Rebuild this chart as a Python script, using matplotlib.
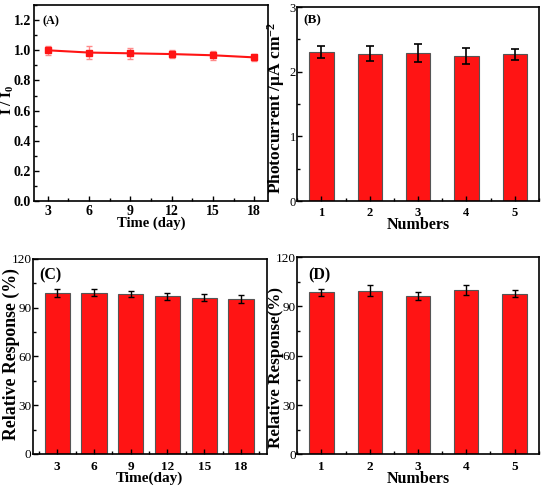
import matplotlib
matplotlib.use("Agg")
import matplotlib.pyplot as plt
from matplotlib.ticker import MultipleLocator

plt.rcParams['font.family'] = ['Liberation Serif', 'DejaVu Serif']
plt.rcParams['mathtext.fontset'] = 'custom'
plt.rcParams['mathtext.rm'] = 'Liberation Serif:bold'
plt.rcParams['mathtext.it'] = 'Liberation Serif:bold'
plt.rcParams['mathtext.bf'] = 'Liberation Serif:bold'

# Panel A data
days_a = [3, 6, 9, 12, 15, 18]
ratio_a = [1.00, 0.985, 0.98, 0.975, 0.967, 0.953]
err_a = [0.030, 0.045, 0.035, 0.028, 0.030, 0.022]

# Panel B data
num_b = [1, 2, 3, 4, 5]
photo_b = [2.31, 2.28, 2.29, 2.24, 2.27]
err_b = [0.093, 0.12, 0.135, 0.12, 0.088]

# Panel C data
days_c = [3, 6, 9, 12, 15, 18]
resp_c = [99.3, 99.3, 98.2, 97.0, 96.2, 95.2]
err_c = [2.5, 2.0, 1.8, 2.0, 2.0, 2.5]

# Panel D data
num_d = [1, 2, 3, 4, 5]
resp_d = [98.6, 99.4, 96.3, 100.0, 97.6]
err_d = [2.1, 3.4, 2.6, 3.1, 2.1]

RED = '#ff1414'
EDGE = '#555555'

fig = plt.figure(figsize=(5.43, 4.88), dpi=100)

axA = fig.add_axes([0.0626, 0.588, 0.431, 0.4016])
axB = fig.add_axes([0.5475, 0.588, 0.445, 0.3975])
axC = fig.add_axes([0.0602, 0.0697, 0.431, 0.3996])
axD = fig.add_axes([0.5475, 0.0690, 0.4446, 0.4043])

def style(ax):
    ax.tick_params(which='both', direction='in', top=False, right=False)
    ax.tick_params(which='major', length=3.5, width=1)
    ax.tick_params(which='minor', length=2, width=1)
    for s in ax.spines.values():
        s.set_linewidth(1.2)

# A
axA.errorbar(days_a, ratio_a, yerr=err_a, color=RED, lw=1.5, marker='s', ms=4.5,
             ecolor='#ff8a8a', elinewidth=1, capsize=2.5, capthick=1)
axA.set_xlim(2, 19)
axA.set_ylim(0, 1.3)
axA.xaxis.set_major_locator(MultipleLocator(3))
axA.xaxis.set_minor_locator(MultipleLocator(1.5))
axA.yaxis.set_minor_locator(MultipleLocator(0.1))
axA.set_yticks([0, 0.2, 0.4, 0.6, 0.8, 1.0, 1.2])
axA.set_yticklabels(['0.0', '0.2', '0.4', '0.6', '0.8', '1.0', '1.2'])
style(axA)
for lab in axA.get_xticklabels() + axA.get_yticklabels():
    lab.set_fontweight('bold'); lab.set_fontsize(10)
axA.tick_params(axis='x', pad=3)
axA.tick_params(axis='y', pad=2)
axA.set_xlabel('Time (day)', fontsize=10.5, fontweight='bold', labelpad=-1)
axA.set_ylabel('I / I$_0$', fontsize=11, fontweight='bold')
axA.yaxis.set_label_coords(-0.077, 0.515)
axA.text(0.038, 0.918, '(A)', transform=axA.transAxes, fontsize=8.8, fontweight='bold', va='center')

# B
axB.bar(num_b, photo_b, width=0.5, color=RED, edgecolor=EDGE, linewidth=0.8,
        yerr=err_b, error_kw=dict(ecolor='black', elinewidth=1.2, capsize=3, capthick=1.2))
axB.set_xlim(0.5, 5.5)
axB.set_ylim(0, 3)
axB.xaxis.set_major_locator(MultipleLocator(1))
axB.xaxis.set_minor_locator(MultipleLocator(0.5))
axB.yaxis.set_major_locator(MultipleLocator(1))
axB.yaxis.set_minor_locator(MultipleLocator(0.5))
style(axB)
for lab in axB.get_xticklabels():
    lab.set_fontweight('bold'); lab.set_fontsize(9)
for lab in axB.get_yticklabels():
    lab.set_fontsize(9)
axB.tick_params(axis='y', pad=1)
axB.tick_params(axis='x', pad=4)
axB.set_xlabel('Numbers', fontsize=11.5, fontweight='bold', labelpad=-1.5)
axB.set_ylabel('Photocurrent /$\\mu$A cm$^{-2}$', fontsize=12.5, fontweight='bold')
axB.yaxis.set_label_coords(-0.043, 0.48)
axB.text(0.024, 0.933, '(B)', transform=axB.transAxes, fontsize=9.5, fontweight='bold', va='center')

# C
axC.bar(days_c, resp_c, width=2.07, color=RED, edgecolor=EDGE, linewidth=0.8,
        yerr=err_c, error_kw=dict(ecolor='black', elinewidth=1, capsize=2.5, capthick=1))
axC.set_xlim(1, 20.1)
axC.set_ylim(0, 120)
axC.xaxis.set_major_locator(MultipleLocator(3))
axC.xaxis.set_minor_locator(MultipleLocator(1.5))
axC.yaxis.set_major_locator(MultipleLocator(30))
axC.yaxis.set_minor_locator(MultipleLocator(15))
style(axC)
for lab in axC.get_xticklabels():
    lab.set_fontweight('bold'); lab.set_fontsize(9.5)
for lab in axC.get_yticklabels():
    lab.set_fontsize(9.5)
axC.tick_params(axis='y', pad=1)
axC.tick_params(axis='x', pad=5)
axC.set_xlabel('Time(day)', fontsize=11, fontweight='bold', labelpad=-1)
axC.set_ylabel('Relative Response (%)', fontsize=12.8, fontweight='bold')
axC.yaxis.set_label_coords(-0.056, 0.51)
axC.text(0.027, 0.918, '(C)', transform=axC.transAxes, fontsize=11.5, fontweight='bold', va='center')

# D
axD.bar(num_d, resp_d, width=0.5, color=RED, edgecolor=EDGE, linewidth=0.8,
        yerr=err_d, error_kw=dict(ecolor='black', elinewidth=1, capsize=2.5, capthick=1))
axD.set_xlim(0.5, 5.5)
axD.set_ylim(0, 120)
axD.xaxis.set_major_locator(MultipleLocator(1))
axD.xaxis.set_minor_locator(MultipleLocator(0.5))
axD.yaxis.set_major_locator(MultipleLocator(30))
axD.yaxis.set_minor_locator(MultipleLocator(15))
style(axD)
for lab in axD.get_xticklabels():
    lab.set_fontweight('bold'); lab.set_fontsize(9.5)
for lab in axD.get_yticklabels():
    lab.set_fontsize(9.5)
axD.tick_params(axis='y', pad=1)
axD.tick_params(axis='x', pad=5)
axD.set_xlabel('Numbers', fontsize=11.5, fontweight='bold', labelpad=-1.5)
axD.set_ylabel('Relative Response(%)', fontsize=12.3, fontweight='bold')
axD.yaxis.set_label_coords(-0.057, 0.44)
axD.text(0.044, 0.906, '(D)', transform=axD.transAxes, fontsize=11.5, fontweight='bold', va='center')

fig.savefig('out.png', dpi=100)
